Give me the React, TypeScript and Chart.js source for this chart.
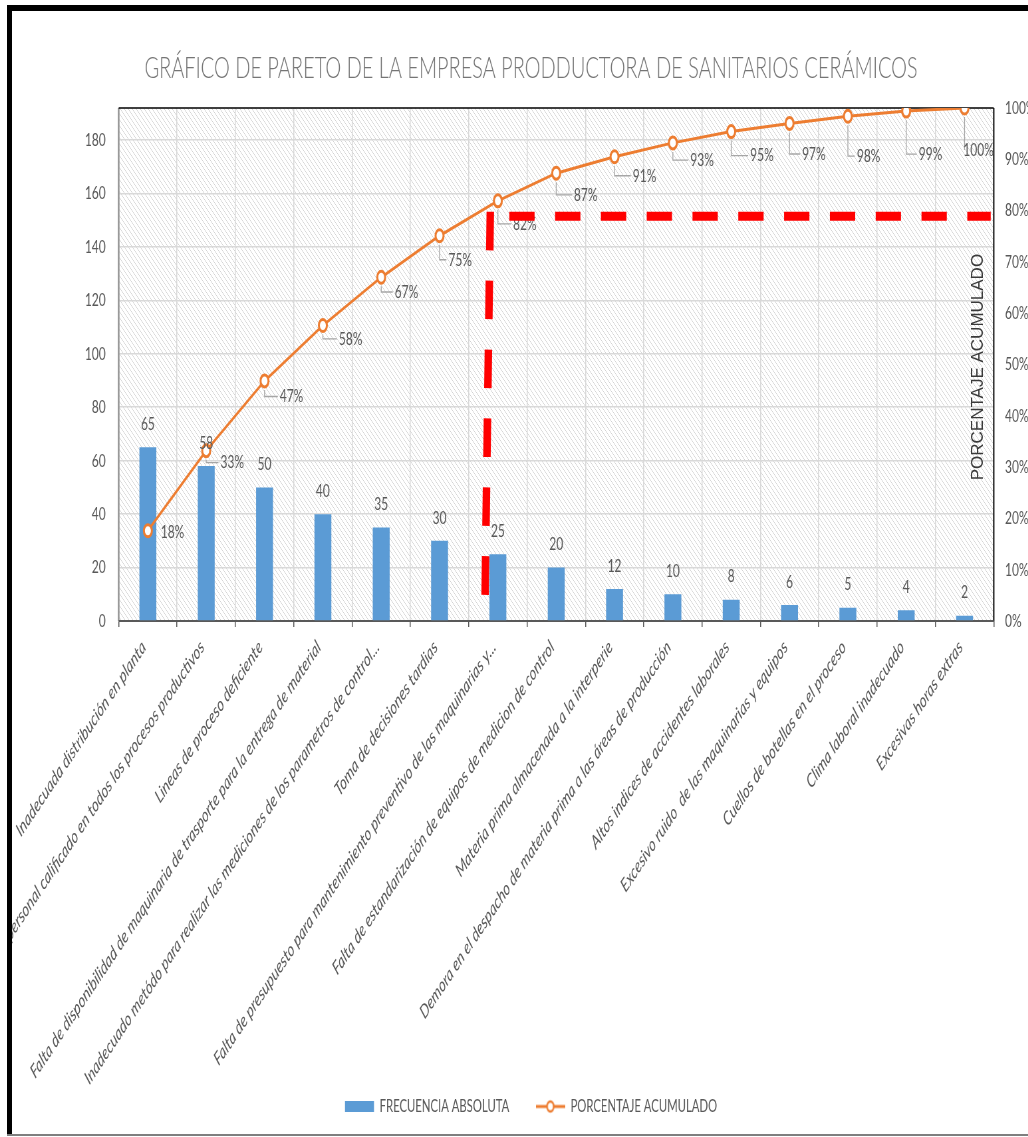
import React, { useEffect, useRef } from 'react';
import { Chart, registerables } from 'chart.js';

Chart.register(...registerables);

// ---------- data ----------
const chartTitle = 'GRÁFICO DE PARETO DE LA EMPRESA PRODDUCTORA DE SANITARIOS CERÁMICOS';
const barSeriesName = 'FRECUENCIA ABSOLUTA';
const lineSeriesName = 'PORCENTAJE ACUMULADO';
const rightAxisTitle = 'PORCENTAJE ACUMULADO';

const categories = [
  'Inadecuada distribución en planta',
  'Falta de personal calificado en todos los procesos productivos',
  'Lineas de proceso deficiente',
  'Falta de disponibilidad de maquinaria de trasporte para la entrega de material',
  'Inadecuado metódo para realizar las mediciones de los parametros de control...',
  'Toma de decisiones tardias',
  'Falta de presupuesto para mantenimiento preventivo de las maquinarias y...',
  'Falta de estandarización de equipos de medicion de control',
  'Materia prima almacenada a la interperie',
  'Demora en el despacho de materia prima a las áreas de producción',
  'Altos indices de accidentes laborales',
  'Excesivo ruido  de las maquinarias y equipos',
  'Cuellos de botellas en el proceso',
  'Clima laboral inadecuado',
  'Excesivas horas extras',
];

const frequencies = [65, 58, 50, 40, 35, 30, 25, 20, 12, 10, 8, 6, 5, 4, 2];
const cumulativePercent = [17.6, 33.2, 46.8, 57.6, 67.0, 75.1, 81.9, 87.3, 90.5, 93.2, 95.4, 97.0, 98.4, 99.4, 100];

const leftAxisMax = 192;
const leftAxisStep = 20;
const rightAxisMax = 100;
const rightAxisStep = 10;

// 80/20 cut marker (red dashed lines)
const cutPercent = 78.9;
const cutEndPercent = 5;
const cutIndexTop = 5.87;
const cutIndexBottom = 5.78;

// ---------- layout / style ----------
const S = 0.665; // horizontal compression of the reference picture
const CANVAS_W = 1597;
const CANVAS_H = 1137;
const PLOT_LEFT = 118.7 / S;
const PLOT_RIGHT = 993.7 / S;
const GRAY = '#595959';
const FONT = 'Lato';

// label offsets (screen px) of the percentage labels relative to their points
const percentLabelOffsets: [number, number][] = [
  [24.6, 1], [26, 12], [27, 15.6], [27.7, 13.4], [25.3, 14.7], [20.6, 24], [27, 23], [29.5, 21.7],
  [30, 19], [29.2, 17.2], [30.7, 24], [24.3, 30.6], [20.7, 40], [24.3, 43], [14, 42],
];

function makeHatch(ctx: CanvasRenderingContext2D) {
  const t = document.createElement('canvas');
  t.width = 6;
  t.height = 6;
  const g = t.getContext('2d')!;
  g.fillStyle = '#ffffff';
  g.fillRect(0, 0, 6, 6);
  g.strokeStyle = '#d2d2d2';
  g.lineWidth = 1;
  g.beginPath();
  g.moveTo(-1, -1);
  g.lineTo(7, 7);
  g.moveTo(-1, 5);
  g.lineTo(1, 7);
  g.moveTo(5, -1);
  g.lineTo(7, 1);
  g.stroke();
  return ctx.createPattern(t, 'repeat');
}

function makeLineIcon() {
  const c = document.createElement('canvas');
  c.width = Math.round(29 / S);
  c.height = 16;
  const g = c.getContext('2d')!;
  g.strokeStyle = '#ED7D31';
  g.lineWidth = 3;
  g.beginPath();
  g.moveTo(0, 8);
  g.lineTo(c.width, 8);
  g.stroke();
  g.beginPath();
  g.arc(c.width / 2, 8, 5, 0, Math.PI * 2);
  g.fillStyle = '#ffffff';
  g.fill();
  g.lineWidth = 2.5;
  g.stroke();
  return c;
}

const paretoPlugin = {
  id: 'paretoDecor',
  afterLayout(chart: any) {
    // let the long rotated category labels run below the axis box (no clipping)
    const xs = chart.scales.x;
    if (xs) xs.bottom = chart.height;
  },
  beforeDraw(chart: any) {
    const { ctx, chartArea: a } = chart;
    ctx.save();
    ctx.fillStyle = '#ffffff';
    ctx.fillRect(0, 0, chart.width, chart.height);
    const pat = makeHatch(ctx);
    if (pat) ctx.fillStyle = pat;
    ctx.fillRect(a.left, a.top, a.right - a.left, a.bottom - a.top);
    ctx.restore();
  },
  beforeDatasetsDraw(chart: any) {
    const { ctx, chartArea: a } = chart;
    ctx.save();
    ctx.lineWidth = 1.5 / S;
    ctx.strokeStyle = '#8c8c8c';
    ctx.beginPath();
    ctx.moveTo(a.left, a.top);
    ctx.lineTo(a.left, a.bottom);
    ctx.stroke();
    ctx.strokeStyle = '#262626';
    ctx.beginPath();
    ctx.moveTo(a.right, a.top);
    ctx.lineTo(a.right, a.bottom);
    ctx.stroke();
    ctx.lineWidth = 1.5;
    ctx.strokeStyle = '#000000';
    ctx.beginPath();
    ctx.moveTo(a.left, a.top);
    ctx.lineTo(a.right, a.top);
    ctx.stroke();
    ctx.strokeStyle = GRAY;
    ctx.lineWidth = 2;
    ctx.beginPath();
    ctx.moveTo(a.left, a.bottom);
    ctx.lineTo(a.right, a.bottom);
    ctx.stroke();
    ctx.restore();
  },
  afterDatasetsDraw(chart: any) {
    const { ctx, chartArea: a } = chart;
    const bars = chart.getDatasetMeta(0).data;
    const pts = chart.getDatasetMeta(1).data;
    ctx.save();
    ctx.font = `18px ${FONT}`;
    ctx.fillStyle = GRAY;
    ctx.textAlign = 'center';
    ctx.textBaseline = 'middle';
    bars.forEach((b: any, i: number) => {
      ctx.fillText(String(frequencies[i]), b.x, b.y - 23);
    });
    pts.forEach((p: any, i: number) => {
      const [dx, dy] = percentLabelOffsets[i];
      const lx = p.x + dx / S;
      const ly = p.y + dy;
      const txt = `${Math.round(cumulativePercent[i])}%`;
      const w = ctx.measureText(txt).width;
      if (dy >= 12) {
        ctx.strokeStyle = '#a6a6a6';
        ctx.lineWidth = 1.3;
        ctx.beginPath();
        ctx.moveTo(p.x, p.y + 9);
        ctx.lineTo(p.x, ly);
        ctx.lineTo(Math.max(p.x, lx - w / 2 - 3), ly);
        ctx.stroke();
      }
      ctx.fillStyle = GRAY;
      ctx.fillText(txt, lx, ly);
    });

    // secondary axis title drawn inside the plot
    const y1 = chart.scales.y1;
    ctx.save();
    ctx.translate(a.right - 15.7 / S, y1.getPixelForValue(49.5));
    ctx.rotate(-Math.PI / 2);
    ctx.scale(1, 1.0 / S);
    ctx.font = `17px "Liberation Sans"`;
    ctx.fillStyle = '#3a3a3a';
    ctx.textAlign = 'center';
    ctx.textBaseline = 'middle';
    ctx.fillText(rightAxisTitle, 0, 0);
    ctx.restore();

    // red dashed 80% cut lines
    const xs = chart.scales.x;
    const yH = y1.getPixelForValue(cutPercent);
    const xTop = xs.getPixelForValue(cutIndexTop);
    const xBot = xs.getPixelForValue(cutIndexBottom);
    ctx.strokeStyle = '#ff0000';
    ctx.lineCap = 'butt';
    ctx.lineWidth = 9;
    ctx.setLineDash([25.3 / S, 20.5 / S]);
    ctx.beginPath();
    ctx.moveTo(xTop + 19 / S, yH);
    ctx.lineTo(a.right - 3 / S, yH);
    ctx.stroke();
    ctx.lineWidth = 7.5 / S;
    ctx.setLineDash([38.6, 30.3]);
    ctx.beginPath();
    ctx.moveTo(xTop, yH - 4.5);
    ctx.lineTo(xBot, y1.getPixelForValue(cutEndPercent));
    ctx.stroke();
    ctx.restore();
  },
};

export default function App() {
  const ref = useRef<HTMLCanvasElement>(null);

  useEffect(() => {
    const canvas = ref.current;
    if (!canvas) return;
    const lineIcon = makeLineIcon();
    const chart = new Chart(canvas, {
      type: 'bar',
      data: {
        labels: categories,
        datasets: [
          {
            type: 'bar',
            label: barSeriesName,
            data: frequencies,
            backgroundColor: '#5B9BD5',
            borderWidth: 0,
            barPercentage: 0.29,
            categoryPercentage: 1,
            yAxisID: 'y',
            order: 2,
          },
          {
            type: 'line',
            label: lineSeriesName,
            data: cumulativePercent,
            borderColor: '#ED7D31',
            backgroundColor: '#ffffff',
            borderWidth: 3,
            pointRadius: 6,
            pointBorderWidth: 3,
            pointBackgroundColor: '#ffffff',
            pointBorderColor: '#ED7D31',
            tension: 0,
            yAxisID: 'y1',
            order: 1,
          },
        ],
      } as any,
      options: {
        responsive: false,
        maintainAspectRatio: false,
        animation: false,
        layout: { padding: { left: 0, right: 0, top: 0, bottom: 12 } },
        plugins: {
          title: {
            display: true,
            text: chartTitle,
            color: '#757575',
            font: { family: FONT, size: 30, weight: '300' as any },
            padding: { top: 50, bottom: 22 },
          },
          legend: {
            display: true,
            position: 'bottom',
            labels: {
              usePointStyle: true,
              pointStyleWidth: 29 / S,
              boxHeight: 11,
              padding: 40,
              color: GRAY,
              font: { family: FONT, size: 17 },
              sort: (a: any, b: any) => a.datasetIndex - b.datasetIndex,
              generateLabels(c: any) {
                const items = (Chart.defaults.plugins.legend.labels as any).generateLabels(c);
                items.forEach((it: any) => {
                  if (it.datasetIndex === 1) {
                    it.pointStyle = lineIcon;
                  } else {
                    it.pointStyle = 'rect';
                    it.lineWidth = 0;
                  }
                });
                return items;
              },
            },
          },
          tooltip: { enabled: false },
        },
        scales: {
          x: {
            type: 'category',
            offset: true,
            grid: {
              offset: true,
              color: '#d9d9d9',
              lineWidth: 1.5,
              tickColor: GRAY,
              tickLength: 6,
              tickWidth: 1.5,
            },
            border: { display: false },
            ticks: {
              autoSkip: false,
              maxRotation: 45,
              minRotation: 45,
              color: GRAY,
              padding: 9,
              labelOffset: -6,
              font: { family: FONT, size: 19, style: 'italic' },
            },
            afterFit(s: any) {
              s.height = 437;
              s.paddingLeft = 0;
              s.paddingRight = 0;
            },
          },
          y: {
            type: 'linear',
            position: 'left',
            min: 0,
            max: leftAxisMax,
            grid: { color: '#d9d9d9', lineWidth: 1.5, drawTicks: false },
            border: { display: false },
            ticks: {
              stepSize: leftAxisStep,
              color: GRAY,
              padding: 19.5,
              font: { family: FONT, size: 18 },
            },
            afterBuildTicks(s: any) {
              s.ticks = s.ticks.filter((t: any) => t.value % leftAxisStep === 0);
            },
            afterFit(s: any) {
              s.width = PLOT_LEFT;
              s.paddingTop = 0;
              s.paddingBottom = 0;
            },
          },
          y1: {
            type: 'linear',
            position: 'right',
            min: 0,
            max: rightAxisMax,
            grid: { drawOnChartArea: false, drawTicks: false },
            border: { display: false },
            ticks: {
              stepSize: rightAxisStep,
              color: GRAY,
              padding: 17,
              font: { family: FONT, size: 18 },
              callback: (v: any) => `${v}%`,
            },
            afterFit(s: any) {
              s.width = CANVAS_W - PLOT_RIGHT;
              s.paddingTop = 0;
              s.paddingBottom = 0;
            },
          },
        },
      } as any,
      plugins: [paretoPlugin],
    });
    return () => chart.destroy();
  }, []);

  return (
    <div
      style={{
        position: 'absolute',
        left: 0,
        top: 0,
        width: 1028,
        height: 1137,
        overflow: 'hidden',
        background: '#ffffff',
      }}
    >
      <canvas
        ref={ref}
        width={CANVAS_W}
        height={CANVAS_H}
        style={{
          position: 'absolute',
          left: 0,
          top: 0,
          width: CANVAS_W,
          height: CANVAS_H,
          transform: `scaleX(${S})`,
          transformOrigin: '0 0',
        }}
      />
      <div style={{ position: 'absolute', left: 0, top: 0, width: 7, height: 1137, background: '#ffffff' }} />
      <div style={{ position: 'absolute', left: 0, top: 0, width: 1028, height: 5, background: '#ffffff' }} />
      <div style={{ position: 'absolute', left: 7, top: 5, width: 1021, height: 6, background: '#000000' }} />
      <div style={{ position: 'absolute', left: 7, top: 5, width: 5, height: 1129, background: '#000000' }} />
      <div style={{ position: 'absolute', left: 7, top: 1134, width: 1021, height: 2, background: '#7f7f7f' }} />
      <div style={{ position: 'absolute', left: 0, top: 1136, width: 1028, height: 1, background: '#ffffff' }} />
    </div>
  );
}
